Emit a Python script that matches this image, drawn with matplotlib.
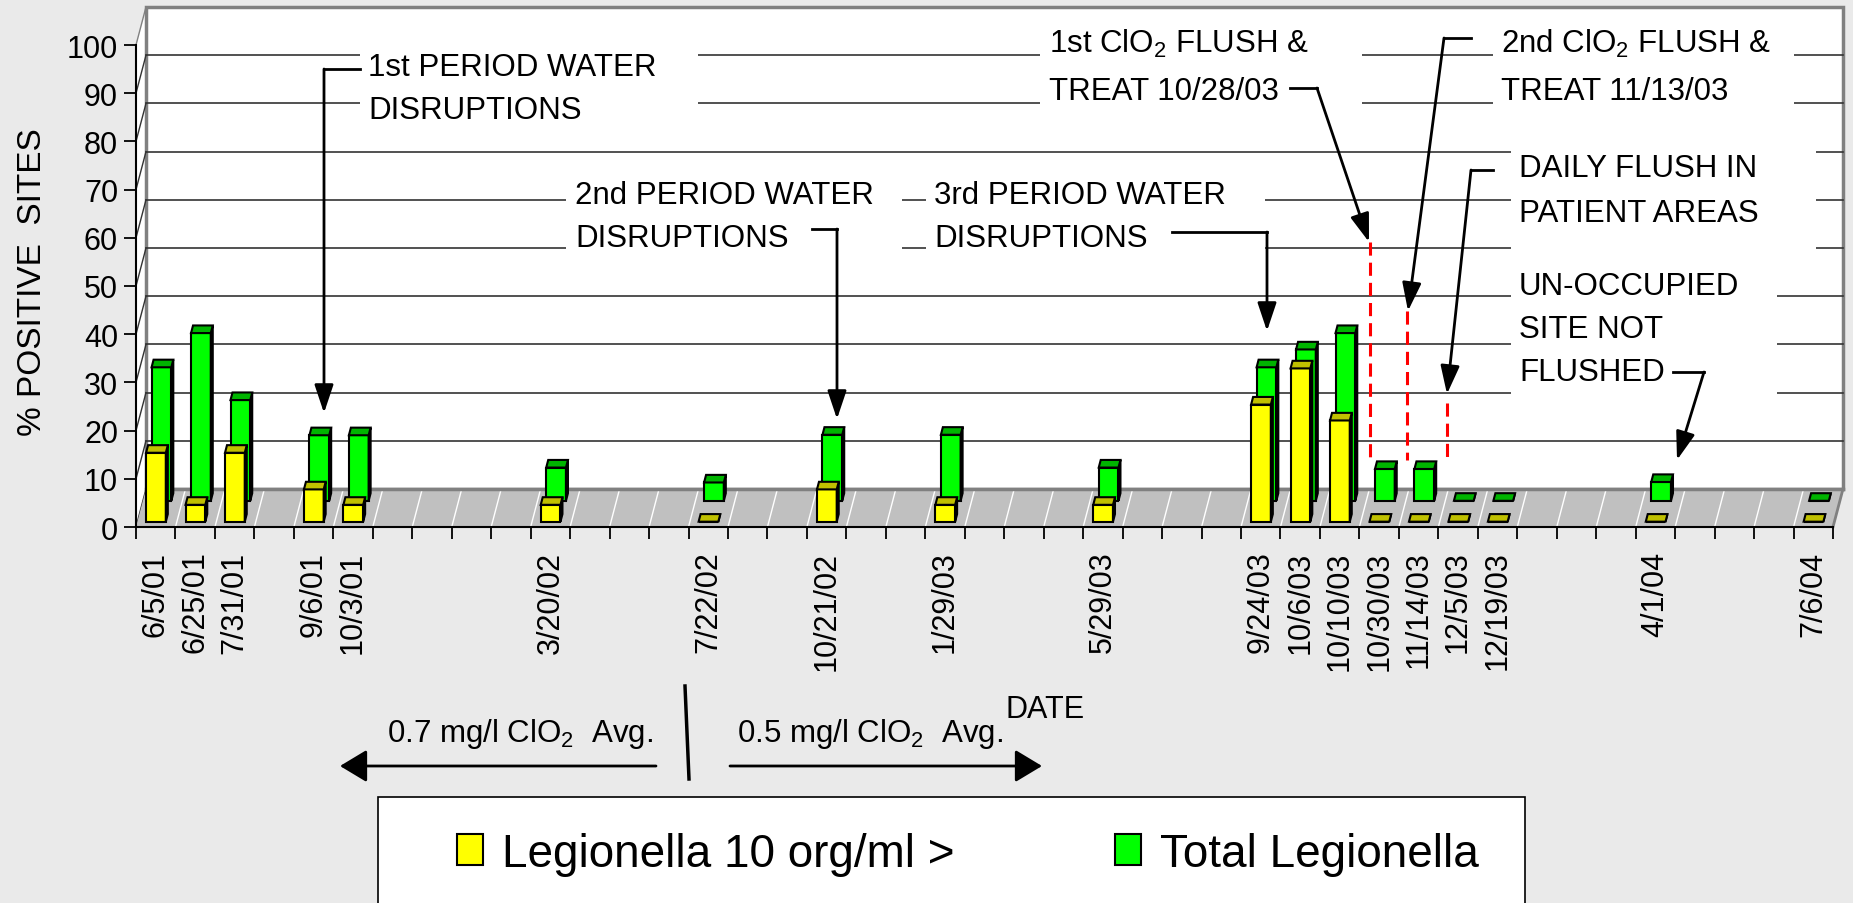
import numpy as np
import matplotlib
matplotlib.use('Agg')
import matplotlib.pyplot as plt
from matplotlib.patches import Polygon, Rectangle
from matplotlib.transforms import Affine2D

plt.rcParams['font.family'] = ['Liberation Sans', 'DejaVu Sans']
plt.rcParams['mathtext.fontset'] = 'custom'
plt.rcParams['mathtext.rm'] = 'Liberation Sans'
plt.rcParams['mathtext.it'] = 'Liberation Sans:italic'
plt.rcParams['mathtext.bf'] = 'Liberation Sans:bold'

# sample dates and their slot on the category axis (43 slots, many empty)
dates = ['6/5/01', '6/25/01', '7/31/01', '9/6/01', '10/3/01', '3/20/02', '7/22/02',
         '10/21/02', '1/29/03', '5/29/03', '9/24/03', '10/6/03', '10/10/03',
         '10/30/03', '11/14/03', '12/5/03', '12/19/03', '4/1/04', '7/6/04']
slot = [0, 1, 2, 4, 5, 10, 14, 17, 20, 24, 28, 29, 30, 31, 32, 33, 34, 38, 42]
n_slots = 43

# % positive sites
legionella_10 = [14.3, 3.5, 14.3, 6.7, 3.5, 3.5, 0, 6.7, 3.5, 3.5, 24.3, 31.8, 21.0,
                 0, 0, 0, 0, 0, 0]
total_legionella = [27.7, 34.8, 20.9, 13.6, 13.6, 6.9, 3.8, 13.7, 13.7, 6.9, 27.7, 31.4,
                    34.8, 6.6, 6.6, 0, 0, 3.9, 0]

W, H = 1853, 904
fig = plt.figure(figsize=(W / 100, H / 100), dpi=100, facecolor='#eaeaea')
ax = fig.add_axes([136 / W, (H - 528) / H, (1833 - 136) / W, (528 - 46) / H])
ax.patch.set_visible(False)
PX = Affine2D().scale(1, -1).translate(0, H)   # pixel coords, origin top-left

DX, DY = 0.253, 7.88       # depth offset of the back wall (category units, % units)
x0, x1 = -0.5, n_slots - 0.5

# walls
ax.add_patch(Polygon([(x0, 0), (x0 + DX, DY), (x0 + DX, 100 + DY), (x0, 100)],
                     fc='white', ec='none', zorder=0.5, clip_on=False))
ax.add_patch(Rectangle((x0 + DX, DY), x1 - x0, 100, fc='white', ec='#808080', lw=2.5,
                       zorder=0.5, clip_on=False))
for v in range(10, 100, 10):
    ax.plot([x0 + DX, x1 + DX], [v + DY, v + DY], color='#333333', lw=1.2, zorder=0.6,
            clip_on=False)
for v in range(0, 101, 10):
    ax.plot([x0, x0 + DX], [v, v + DY], color='#333333' if v < 100 else '#808080',
            lw=1.0, zorder=0.6, clip_on=False)

# white boxes behind the callout texts (break the gridlines)
boxes = [(360, 40, 338, 85), (566, 172, 336, 90), (926, 172, 339, 90),
         (1040, 28, 322, 88), (1493, 28, 301, 88), (1511, 138, 305, 122),
         (1511, 268, 266, 135)]
for bx, by, bw, bh in boxes:
    ax.add_patch(Rectangle((bx, by), bw, bh, transform=PX, fc='white', ec='none',
                           zorder=0.7, clip_on=False))

# floor
ax.add_patch(Polygon([(x0, 0), (x1, 0), (x1 + DX, DY), (x0 + DX, DY)], fc='#c0c0c0',
                     ec='none', zorder=0.8, clip_on=False))
for b in np.arange(x0 + 1, x1, 1):
    ax.plot([b, b + DX], [0, DY], color='white', lw=1.0, zorder=0.9, clip_on=False)
ax.plot([x0 + DX, x1 + DX], [DY, DY], color='#808080', lw=2.5, zorder=0.9, clip_on=False)
ax.plot([x1, x1 + DX], [0, DY], color='#808080', lw=2, zorder=0.9, clip_on=False)

# pseudo 3D columns
BW, T, OFF = 0.5, 0.2, -0.03


def bar3d(vals, d0, face, top, side, z, label):
    xs = np.array(slot) + OFF + d0 * DX
    bars = ax.bar(xs, vals, width=BW, bottom=d0 * DY, color=face, edgecolor='black',
                  lw=1.5, zorder=z, label=label)
    for p in bars.patches:
        p.set_clip_on(False)
        x, y, w, h = p.get_x(), p.get_y(), p.get_width(), p.get_height()
        ty = y + h
        side_pts = [(x + w, y), (x + w + T * DX, y + T * DY), (x + w + T * DX, ty + T * DY),
                    (x + w, ty)]
        top_pts = [(x, ty), (x + w, ty), (x + w + T * DX, ty + T * DY), (x + T * DX, ty + T * DY)]
        ax.add_patch(Polygon(side_pts, fc=side, ec='black', lw=1.5, zorder=z, clip_on=False))
        ax.add_patch(Polygon(top_pts, fc=top, ec='black', lw=1.5, zorder=z, clip_on=False))
    return bars


green = bar3d(total_legionella, 0.69, '#00ff00', '#00b400', '#004000', 2, 'Total Legionella')
yellow = bar3d(legionella_10, 0.14, '#ffff00', '#c0c000', '#404000', 3,
               'Legionella 10 org/ml >')

# axes
ax.set_xlim(x0, x1)
ax.set_ylim(0, 100)
for s in ['top', 'right']:
    ax.spines[s].set_visible(False)
for s in ['left', 'bottom']:
    ax.spines[s].set_color('black')
    ax.spines[s].set_linewidth(1.5)
    ax.spines[s].set_zorder(1)
ax.set_yticks(range(0, 101, 10))
ax.tick_params(axis='y', length=8.6, width=1.3, labelsize=22, pad=4.3)
ax.set_xticks(slot)
ax.set_xticklabels(dates, rotation=90, fontsize=22)
ax.tick_params(axis='x', which='major', length=0, pad=17)
ax.set_xticks(np.arange(x0, x1 + 0.01, 1), minor=True)
ax.tick_params(axis='x', which='minor', length=8.6, width=1.3)

ax.set_xlabel('DATE', fontsize=22)
ax.xaxis.set_label_coords(0.5357, -0.346)
fig.text(33, 282, '% POSITIVE  SITES', transform=PX, rotation=90, ha='center',
         va='center', fontsize=24)

# callouts
callouts = [
    (368, [76, 119], ['1st PERIOD WATER', 'DISRUPTIONS']),
    (575, [204, 247], ['2nd PERIOD WATER', 'DISRUPTIONS']),
    (934, [204, 247], ['3rd PERIOD WATER', 'DISRUPTIONS']),
    (1049, [53, 100], ['1st ClO$_2$ FLUSH &', 'TREAT 10/28/03']),
    (1501, [53, 100], ['2nd ClO$_2$ FLUSH &', 'TREAT 11/13/03']),
    (1519, [177, 222], ['DAILY FLUSH IN', 'PATIENT AREAS']),
    (1519, [295, 338, 381], ['UN-OCCUPIED', 'SITE NOT', 'FLUSHED']),
]
for tx, ys, lines in callouts:
    for ty, s in zip(ys, lines):
        ax.text(tx, ty, s, transform=PX, fontsize=22.5, ha='left', va='baseline', zorder=5)

leaders = [
    [(360, 70), (324, 70), (324, 414)],
    [(812, 230), (837, 230), (837, 420)],
    [(1172, 233), (1267, 233), (1267, 332)],
    [(1290, 89), (1317, 89), (1369, 243)],
    [(1471, 39), (1444, 39), (1408, 312)],
    [(1493, 171), (1471, 171), (1447, 395)],
    [(1673, 373), (1704, 373), (1677, 461)],
]
for pts in leaders:
    px_, py_ = zip(*pts[:-1])
    ax.plot(px_, py_, transform=PX, color='black', lw=2, zorder=4, clip_on=False)
    ax.annotate('', xy=pts[-1], xycoords=PX, xytext=pts[-2], textcoords=PX,
                arrowprops=dict(arrowstyle='-|>,head_length=1.73,head_width=0.58',
                                color='black', lw=2, shrinkA=0, shrinkB=0),
                zorder=4, annotation_clip=False)

# treatment event markers
events = [(1370, 243), (1407, 312), (1447, 404)]
for ex, ey in events:
    ax.plot([ex, ex], [ey, 461], transform=PX, color='#ff0000', lw=2.2,
            dashes=[4.3, 2.3], zorder=4, clip_on=False)

# ClO2 dose periods below the axis
fig.text(387, 742, '0.7 mg/l ClO$_2$  Avg.', transform=PX, fontsize=22.5, ha='left',
         va='baseline')
fig.text(737, 742, '0.5 mg/l ClO$_2$  Avg.', transform=PX, fontsize=22.5, ha='left',
         va='baseline')
for start, tip in [((656, 767), (340, 767)), ((730, 767), (1042, 767))]:
    ax.annotate('', xy=tip, xycoords=PX, xytext=start, textcoords=PX,
                arrowprops=dict(arrowstyle='-|>,head_length=1.66,head_width=1.0',
                                color='black', lw=2, shrinkA=0, shrinkB=0),
                annotation_clip=False)
ax.plot([685, 689], [687, 780], transform=PX, color='black', lw=2.5, clip_on=False)

# legend
fig.add_artist(Rectangle((378, 798), 1147, 120, transform=PX, fc='white', ec='black',
                         lw=1.2))
fig.legend(handles=[yellow, green], loc='center left',
           bbox_to_anchor=(457 / W, (H - 855) / H), bbox_transform=fig.transFigure,
           ncol=2, frameon=False, fontsize=33, borderpad=0, borderaxespad=0,
           handlelength=0.57, handleheight=0.66, handletextpad=0.41, columnspacing=3.5)

fig.savefig('out.png', dpi=100, facecolor=fig.get_facecolor())
